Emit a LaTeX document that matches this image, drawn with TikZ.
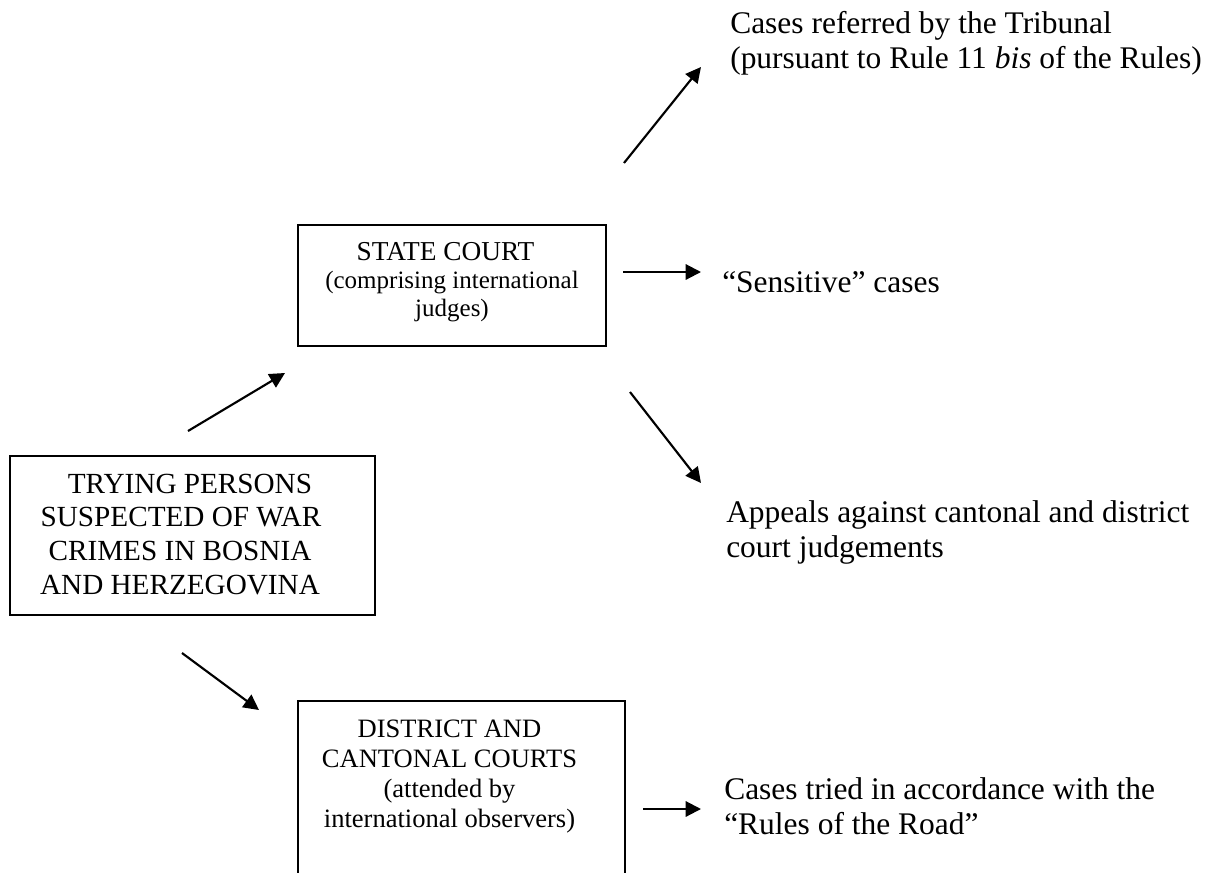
\documentclass[tikz,border=0pt]{standalone}
\usepackage{fontspec}
\setmainfont{Liberation Serif}
\usetikzlibrary{arrows.meta}
\newdimen\px \px=0.75pt
\newcommand\clines[1]{\vtop{\halign{\hfil##\hfil\cr#1\crcr}}}
\newcommand\llines[1]{\vtop{\halign{##\hfil\cr#1\crcr}}}
\tikzset{
  courtbox/.style={draw, line width=1.6pt, inner sep=0pt, outer sep=0pt, anchor=north west},
  outtext/.style={inner sep=0pt, anchor=base west, font=\fontsize{23.6pt}{26.25pt}\selectfont},
  link/.style={line width=1.6pt, -{Triangle[length=11.5pt,width=11.5pt]}},
}
\begin{document}
\begin{tikzpicture}[x=0.75pt,y=-0.75pt]
\useasboundingbox (0,0) rectangle (1217,872);
% boxes
\node[courtbox, line width=1.9pt, minimum width=365\px, text height=37\px, text depth=122\px,
      font=\fontsize{21.9pt}{25.3pt}\selectfont] (trying) at (10,456)
  {\clines{TRYING PERSONS\kern5\px\cr
           SUSPECTED OF WAR\kern23\px\cr
           CRIMES IN BOSNIA\kern25\px\cr
           AND HERZEGOVINA\kern25\px}};
\node[courtbox, minimum width=308\px, text height=35\px, text depth=86\px,
      font=\fontsize{18.75pt}{21pt}\selectfont] (state) at (298,225)
  {\clines{{\fontsize{20.5pt}{21pt}\selectfont STATE COURT}\kern13\px\cr
           (comprising international\cr
           judges)}};
\node[courtbox, minimum width=327\px, text height=36\px, text depth=144\px,
      font=\fontsize{19.9pt}{22.5pt}\selectfont] (district) at (298,701)
  {\clines{DISTRICT AND\kern24\px\cr
           CANTONAL COURTS\kern24\px\cr
           (attended by\kern24\px\cr
           international observers)\kern24\px}};
% outcome texts
\node[outtext] (referred) at (730,33)
  {\llines{Cases referred by the Tribunal\cr
           (pursuant to Rule 11 \textit{bis} of the Rules)}};
\node[outtext] (sensitive) at (722,292) {“Sensitive” cases};
\node[outtext] (appeals) at (726,522)
  {\llines{Appeals against cantonal and district\cr
           court judgements}};
\node[outtext] (road) at (724,799)
  {\llines{Cases tried in accordance with the\cr
           “Rules of the Road”}};
% arrow end points
\coordinate (t2s-a) at (188,431); \coordinate (t2s-b) at (285,373);
\coordinate (t2d-a) at (182,653); \coordinate (t2d-b) at (259,710);
\coordinate (s2r-a) at (624,163); \coordinate (s2r-b) at (701,67);
\coordinate (s2s-a) at (623,272); \coordinate (s2s-b) at (701,272);
\coordinate (s2a-a) at (630,392); \coordinate (s2a-b) at (701,483);
\coordinate (d2r-a) at (643,809); \coordinate (d2r-b) at (701,809);
\draw[link] (t2s-a) -- (t2s-b);
\draw[link] (t2d-a) -- (t2d-b);
\draw[link] (s2r-a) -- (s2r-b);
\draw[link] (s2s-a) -- (s2s-b);
\draw[link] (s2a-a) -- (s2a-b);
\draw[link] (d2r-a) -- (d2r-b);
\end{tikzpicture}
\end{document}
